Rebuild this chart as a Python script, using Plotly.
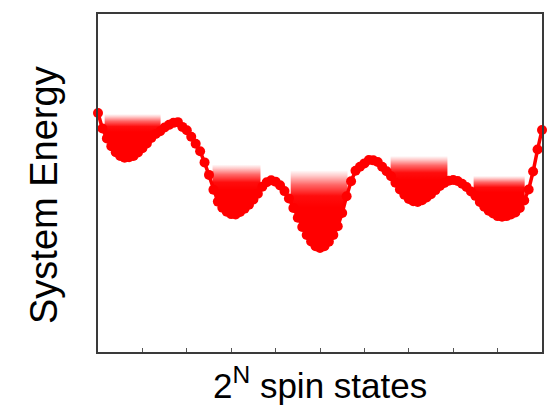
import numpy as np
import plotly.graph_objects as go

# Energy of each spin configuration (arbitrary units), one value per state index
state = list(range(101))
energy = [
    7.07, 6.61, 6.32, 6.09, 5.91, 5.80, 5.75, 5.76, 5.80, 5.90,
    6.03, 6.17, 6.33, 6.45, 6.53, 6.64, 6.72, 6.78, 6.80, 6.66,
    6.56, 6.37, 6.16, 5.94, 5.61, 5.24, 4.80, 4.45, 4.27, 4.15,
    4.08, 4.07, 4.14, 4.24, 4.36, 4.51, 4.68, 4.89, 5.02, 5.08,
    5.04, 4.93, 4.76, 4.54, 4.26, 3.97, 3.70, 3.46, 3.27, 3.13,
    3.08, 3.13, 3.26, 3.46, 3.72, 4.11, 4.61, 5.05, 5.36, 5.48,
    5.58, 5.68, 5.67, 5.62, 5.48, 5.35, 5.20, 5.01, 4.81, 4.65,
    4.53, 4.46, 4.44, 4.49, 4.57, 4.67, 4.79, 4.91, 5.00, 5.07,
    5.09, 5.06, 4.98, 4.88, 4.75, 4.62, 4.44, 4.30, 4.18, 4.10,
    4.02, 4.00, 4.02, 4.07, 4.13, 4.26, 4.48, 4.81, 5.34, 5.99,
    6.57,
]

# Local minima (basins): horizontal extent, upper fade level and fully-red level
well_left = [1.5, 25.8, 43.4, 65.9, 84.6]
well_right = [14.1, 36.6, 56.2, 78.7, 96.1]
well_top = [7.04, 5.55, 5.38, 5.80, 5.21]
well_solid = [6.51, 4.79, 4.29, 5.09, 4.73]

tick_positions = [10, 20, 30, 40, 50, 60, 70, 80, 90]

RED = "#ff0000"
fig = go.Figure()

st = np.array(state, dtype=float)
en = np.array(energy, dtype=float)
for xl, xr, top, solid in zip(well_left, well_right, well_top, well_solid):
    inner = (st > xl) & (st < xr)
    cx = np.concatenate([[xr], st[inner][::-1], [xl]])
    cy = np.interp(cx, st, en)
    px = np.concatenate([[xl, xr], cx, [xl]])
    py = np.concatenate([[top, top], cy, [top]])
    fig.add_trace(go.Scatter(
        x=px, y=py, mode="none", fill="toself",
        fillgradient=dict(
            type="vertical",
            colorscale=[[0, "rgba(255,0,0,1)"], [0.3, "rgba(255,0,0,0.95)"],
                        [0.6, "rgba(255,0,0,0.6)"], [0.85, "rgba(255,0,0,0.2)"],
                        [1, "rgba(255,0,0,0)"]],
            start=solid, stop=top,
        ),
        hoverinfo="skip", showlegend=False,
    ))

fig.add_trace(go.Scatter(
    x=state, y=energy, mode="lines+markers",
    line=dict(color=RED, width=3.5),
    marker=dict(color=RED, size=10),
    cliponaxis=False, showlegend=False,
))

axis_line = dict(showline=True, linecolor="#3a3a3a", linewidth=2, mirror=True,
                 showgrid=False, zeroline=False)
fig.update_xaxes(range=[0, 100], tickvals=tick_positions, ticks="inside",
                 ticklen=4, tickwidth=1, tickcolor="#555555",
                 showticklabels=False, **axis_line)
fig.update_yaxes(range=[0, 10], showticklabels=False, ticks="", **axis_line)

fig.add_annotation(text="2<sup>N</sup> spin states", xref="paper", yref="paper",
                   x=0.5, y=0, xanchor="center", yanchor="top", yshift=-7,
                   showarrow=False, font=dict(family="Arial, Liberation Sans", size=35, color="black"))
fig.add_annotation(text="System Energy", xref="paper", yref="paper",
                   x=0, y=0.5, xanchor="center", yanchor="middle", xshift=-54, yshift=-12,
                   textangle=-90, showarrow=False,
                   font=dict(family="Arial, Liberation Sans", size=38, color="black"))

fig.update_layout(
    width=555, height=407,
    margin=dict(l=98, r=13, t=14, b=55),
    paper_bgcolor="white", plot_bgcolor="white",
)

fig.write_html("out.html")
